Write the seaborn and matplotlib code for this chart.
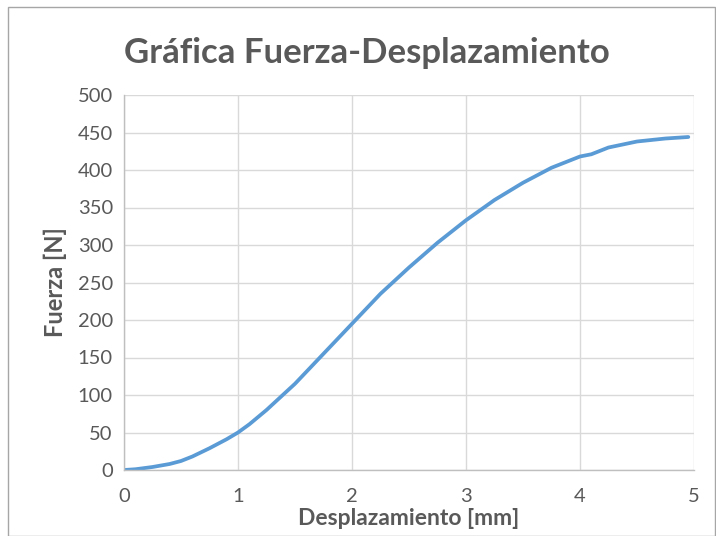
import matplotlib
matplotlib.use("Agg")
import matplotlib.pyplot as plt
import seaborn as sns
import pandas as pd
from matplotlib.patches import Rectangle

desplazamiento = [0.0, 0.1, 0.25, 0.4, 0.5, 0.6, 0.75, 0.9, 1.0, 1.1, 1.25, 1.5, 1.75, 2.0, 2.25, 2.5, 2.75,
                  3.0, 3.25, 3.5, 3.75, 4.0, 4.1, 4.25, 4.5, 4.75, 4.95]
fuerza = [0, 1, 4, 8, 12, 18, 29, 41, 50, 61, 80, 115, 155, 195, 235, 270, 303,
          333, 360, 383, 403, 418, 421, 430, 438, 442, 444]
x_ticks = [0, 1, 2, 3, 4, 5]
y_ticks = [0, 50, 100, 150, 200, 250, 300, 350, 400, 450, 500]

df = pd.DataFrame({"Desplazamiento": desplazamiento, "Fuerza": fuerza})

sns.set_theme(style="white")
plt.rcParams['font.family'] = ['Lato', 'DejaVu Sans']

fig = plt.figure(figsize=(7.16, 5.36), dpi=100)
ax = fig.add_axes([124/716, 66/536, 570/716, 375/536])

sns.lineplot(data=df, x="Desplazamiento", y="Fuerza", ax=ax, color="#5b9bd5", linewidth=2.7)

ax.set_xlim(0, 5)
ax.set_ylim(0, 500)
ax.set_xticks(x_ticks)
ax.set_yticks(y_ticks)
ax.grid(True, color="#d9d9d9", linewidth=1.0)
ax.set_axisbelow(True)
for s in ["top", "right"]:
    ax.spines[s].set_visible(False)
for s in ["left", "bottom"]:
    ax.spines[s].set_color("#bfbfbf")
    ax.spines[s].set_linewidth(1.0)
ax.tick_params(axis="both", length=0, labelsize=14.5, labelcolor="#595959")
ax.tick_params(axis="x", pad=13)
ax.tick_params(axis="y", pad=8)
ax.set_xlabel("Desplazamiento [mm]", fontsize=16.5, fontweight="bold", color="#595959", labelpad=2)
ax.set_ylabel("Fuerza [N]", fontsize=17, fontweight="bold", color="#595959", labelpad=8)
fig.text(367/716, 1 - 53/536, "Gráfica Fuerza-Desplazamiento", fontsize=25, fontweight="bold",
         color="#595959", ha="center", va="center")

fig.patches.append(Rectangle((8/716, 0), 1 - 8/716 - 1/716, 1 - 7/536, transform=fig.transFigure,
                             fill=False, edgecolor="#a6a6a6", linewidth=1.0))

fig.savefig("out.png", dpi=100)
